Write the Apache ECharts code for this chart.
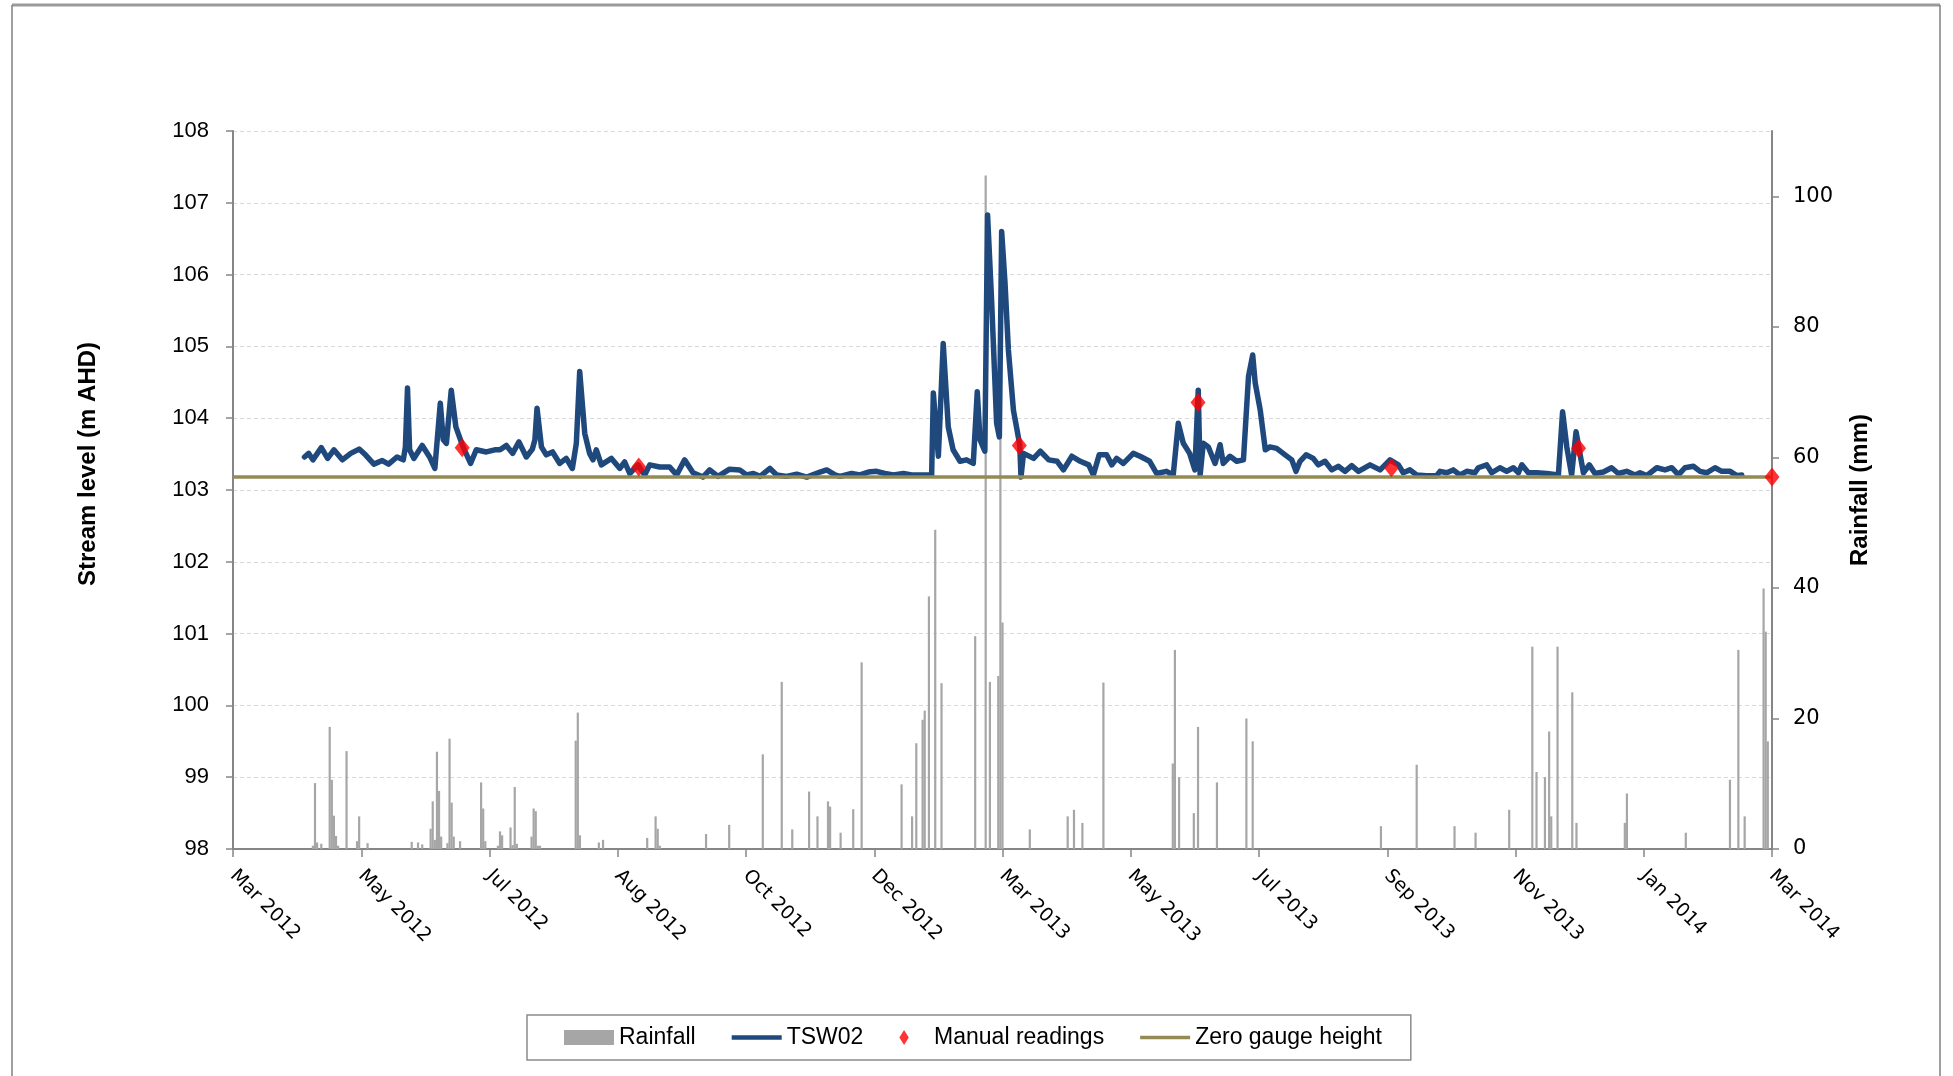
<!DOCTYPE html>
<html>
<head>
<meta charset="utf-8">
<script src="https://cdn.jsdelivr.net/npm/echarts@6/dist/echarts.min.js"></script>
<style>
html,body{margin:0;padding:0;background:#fff;}
#chart{width:1953px;height:1076px;}
</style>
</head>
<body>
<div id="chart"></div>
<script>
// x values are days counted from 1 Mar 2012
const xTickLabels = ['Mar 2012','May 2012','Jul 2012','Aug 2012','Oct 2012','Dec 2012','Mar 2013','May 2013','Jul 2013','Sep 2013','Nov 2013','Jan 2014','Mar 2014'];
const xTickStep = 61;
const xMax = 732;
const rainTicks = [0, 20, 40, 60, 80, 100];

// TSW02 stream level (m AHD)
const tswDay = [34,36,38,42,45,48,52,56,60,63,67,71,74,78,81,82,83,84,86,90,93.5,96,98.6,100,101.5,103.8,106,109.4,113,115.7,120.5,124.5,127,130,133,136,139.5,142.4,143.6,144.6,146.7,149,152,155.4,158.5,161.4,163.3,164.9,167.3,169.6,171.2,172.8,175.2,180,184,186.3,188.7,192.6,195.8,198.2,203,207.7,211,214.8,218.8,223.5,226.7,230.7,236.2,241,244.3,247.5,250.7,255.4,258.6,263.3,268.1,272.9,279.2,282.4,286.3,288.7,294.2,298.2,302.2,306.1,310.1,314.1,318.9,322.8,328.4,332.3,333.1,334.7,335.5,337.8,340.2,342.5,345.8,348.9,352.1,354,355.3,357.6,358.9,360.8,363.2,364.5,365.6,367.2,368.8,371.2,374.2,374.8,376,380.8,384,388,392,395,399,403,407,409.2,412,415.5,418,420.3,423.5,428.2,431.4,436,439.3,444,447.2,449.6,452,455,457.5,459.1,460,461.5,463.9,467.1,469.5,471,474.2,477.4,480.6,483,485,486.2,488.6,491,493.2,496.4,500.4,503.6,505.6,507.5,510.4,513.8,516.2,519.4,522.6,525.7,528.9,532.1,535.3,540.8,545.6,550.3,554.3,556.6,559.8,563,567.7,572.5,574.1,577.3,580.4,583.6,586.8,590.7,592.3,596.3,598.7,602.6,605.8,609,611.4,613,616.1,620.1,624.9,630.4,632.4,634.4,636.7,638.8,640.2,642.3,645.1,647.8,651.8,655.7,658.9,662.9,666.9,669.2,672.4,677.2,681.1,684.3,687.5,690.6,694.6,697.8,700.9,704.9,708.1,712.1,715.2,717.6];
const tswLevel = [103.46,103.51,103.42,103.59,103.44,103.56,103.42,103.51,103.57,103.49,103.36,103.41,103.36,103.46,103.42,103.6,104.42,103.56,103.44,103.62,103.46,103.30,104.21,103.70,103.65,104.39,103.88,103.60,103.37,103.56,103.53,103.56,103.56,103.62,103.51,103.67,103.46,103.57,103.7,104.14,103.60,103.49,103.53,103.37,103.44,103.30,103.65,104.65,103.79,103.51,103.42,103.56,103.35,103.44,103.30,103.39,103.23,103.35,103.21,103.35,103.32,103.32,103.21,103.42,103.24,103.18,103.28,103.19,103.29,103.28,103.21,103.23,103.19,103.30,103.21,103.19,103.22,103.18,103.25,103.28,103.21,103.19,103.23,103.21,103.25,103.26,103.23,103.21,103.23,103.21,103.21,103.21,104.35,103.75,103.47,105.04,103.88,103.56,103.40,103.42,103.37,104.37,103.70,103.54,106.83,105.65,103.93,103.74,106.60,105.88,104.95,104.11,103.63,103.18,103.51,103.44,103.54,103.42,103.40,103.28,103.47,103.40,103.35,103.21,103.49,103.49,103.35,103.44,103.37,103.51,103.47,103.40,103.23,103.26,103.21,103.93,103.65,103.51,103.28,104.39,103.21,103.65,103.60,103.37,103.63,103.37,103.47,103.40,103.42,104.58,104.88,104.49,104.11,103.56,103.60,103.58,103.49,103.42,103.26,103.40,103.49,103.44,103.35,103.40,103.28,103.33,103.26,103.34,103.26,103.35,103.28,103.42,103.35,103.24,103.28,103.21,103.20,103.20,103.26,103.24,103.28,103.21,103.26,103.24,103.31,103.35,103.24,103.31,103.26,103.31,103.24,103.35,103.24,103.24,103.23,103.21,104.09,103.60,103.21,103.81,103.58,103.24,103.35,103.23,103.25,103.31,103.23,103.26,103.21,103.24,103.20,103.31,103.28,103.31,103.21,103.31,103.33,103.26,103.24,103.31,103.26,103.26,103.20,103.21];

// Manual readings (m AHD)
const manualDay = [109, 193, 374, 459, 551, 640, 732];
const manualLevel = [103.59, 103.32, 103.62, 104.22, 103.31, 103.58, 103.18];

// Zero gauge height (m AHD)
const zeroGauge = 103.18;

// Daily rainfall (mm)
const rainDay = [38,39,40,42,46,47,48,49,50,54,59,60,64,85,88,90,94,95,96,97,98,99,102,103,104,105,108,118,119,120,126,127,128,132,133,134,135,142,143,144,145,146,163,164,165,174,176,197,201,202,203,225,236,252,261,266,274,278,283,284,289,295,299,318,323,325,328,329,331,334,337,353,358,360,364,365,366,379,397,400,404,414,447,448,450,457,459,468,482,485,546,563,581,591,607,618,620,624,626,627,630,637,639,662,663,691,712,716,719,728,729,730];
const rainMm = [0.5,10.1,1.0,0.8,18.7,10.6,5.1,2.0,0.5,15.0,1.2,5.0,0.9,1.1,1.0,0.7,3.1,7.3,1.4,14.9,8.9,1.9,0.9,16.9,7.1,1.9,1.2,10.2,6.2,1.2,0.5,2.7,2.1,3.3,0.6,9.5,0.8,1.9,6.2,5.8,0.5,0.5,16.6,20.9,2.1,1.0,1.4,1.7,5.0,3.1,0.5,2.3,3.7,14.5,25.6,3.0,8.8,5.0,7.3,6.5,2.5,6.1,28.6,9.9,5.0,16.2,19.8,21.2,38.7,48.9,25.4,32.6,103.2,25.6,26.5,88.0,34.7,3.0,5.0,6.0,4.0,25.5,13.1,30.5,11.0,5.5,18.7,10.2,20.0,16.5,3.5,12.9,3.5,2.5,6.0,31.0,11.8,11.0,18.0,5.0,31.0,24.0,4.0,4.0,8.5,2.5,10.6,30.5,5.0,39.9,33.3,16.5];

const chart = echarts.init(document.getElementById('chart'), null, {renderer: 'canvas'});

const option = {
  animation: false,
  backgroundColor: '#ffffff',
  grid: {left: 233, right: 181, top: 131, bottom: 227, containLabel: false},
  legend: {
    left: 527, top: 1015,
    padding: [11, 29, 11, 37],
    itemGap: 36,
    itemWidth: 50, itemHeight: 15,
    borderColor: '#8c8c8c', borderWidth: 1.5,
    textStyle: {fontFamily: '"Liberation Sans", Arial, sans-serif', fontSize: 23, color: '#000'},
    data: [
      {name: 'Rainfall', icon: 'rect'},
      {name: 'TSW02', icon: 'path://M0,0H50V4.5H0Z'},
      {name: 'Manual readings', icon: 'path://M5,0L10,8L5,16L0,8Z'},
      {name: 'Zero gauge height', icon: 'path://M0,0H50V3.5H0Z'}
    ]
  },
  xAxis: {
    type: 'value',
    min: 0, max: xMax, interval: xTickStep,
    axisLine: {show: true, lineStyle: {color: '#868686', width: 2}},
    axisTick: {show: true, length: 8, lineStyle: {color: '#868686', width: 1.5}},
    splitLine: {show: false},
    axisLabel: {
      rotate: -45, margin: 24,
      fontFamily: '"DejaVu Sans", sans-serif', fontSize: 19, color: '#000',
      formatter: v => xTickLabels[Math.round(v / xTickStep)] || ''
    }
  },
  yAxis: [
    {
      type: 'value', min: 98, max: 108, interval: 1,
      name: 'Stream level (m AHD)', nameLocation: 'middle', nameGap: 133, nameRotate: 90,
      nameTextStyle: {fontFamily: '"Liberation Sans", Arial, sans-serif', fontWeight: 'bold', fontSize: 24, color: '#000', padding: [0, 0, 0, 52]},
      axisLine: {show: true, lineStyle: {color: '#868686', width: 2}},
      axisTick: {show: true, inside: false, length: 7, lineStyle: {color: '#868686', width: 1.5}},
      splitLine: {show: true, lineStyle: {color: '#d9d9d9', type: [4, 3], width: 1}},
      axisLabel: {margin: 24, fontFamily: '"Liberation Sans", Arial, sans-serif', fontSize: 22, color: '#000'}
    },
    {
      type: 'value', min: 0, max: 110, interval: 20, position: 'right',
      name: 'Rainfall (mm)', nameLocation: 'middle', nameGap: 76, nameRotate: 90,
      nameTextStyle: {fontFamily: '"Liberation Sans", Arial, sans-serif', fontWeight: 'bold', fontSize: 24, color: '#000'},
      axisLine: {show: true, lineStyle: {color: '#868686', width: 2}},
      axisTick: {show: true, inside: false, length: 7, lineStyle: {color: '#868686', width: 1.5}, customValues: rainTicks},
      splitLine: {show: false},
      axisLabel: {margin: 21, fontFamily: '"DejaVu Sans", sans-serif', fontSize: 21, color: '#000', customValues: rainTicks}
    }
  ],
  series: [
    {
      name: 'Rainfall', type: 'bar', yAxisIndex: 1,
      barWidth: 2.2, barGap: '-100%',
      itemStyle: {color: '#A6A6A6'},
      z: 1,
      data: rainDay.map((d, i) => [d, rainMm[i]])
    },
    {
      name: 'TSW02', type: 'line', yAxisIndex: 0,
      symbol: 'none', showSymbol: false,
      lineStyle: {color: '#1F497D', width: 5.5, join: 'round', cap: 'round'},
      itemStyle: {color: '#1F497D'},
      z: 3,
      data: tswDay.map((d, i) => [d, tswLevel[i]])
    },
    {
      name: 'Manual readings', type: 'scatter', yAxisIndex: 0,
      symbol: 'diamond', symbolSize: [15, 19],
      itemStyle: {color: '#FF0000'},
      z: 6,
      data: manualDay.map((d, i) => [d, manualLevel[i]])
    },
    {
      name: 'Zero gauge height', type: 'line', yAxisIndex: 0,
      symbol: 'none', showSymbol: false,
      lineStyle: {color: '#948A54', width: 3.5},
      itemStyle: {color: '#948A54'},
      z: 4,
      data: [[0, zeroGauge], [xMax, zeroGauge]]
    }
  ],
  graphic: [
    {type: 'line', shape: {x1: 12, y1: 5, x2: 1940, y2: 5}, style: {stroke: '#9a9a9a', lineWidth: 3}, silent: true},
    {type: 'line', shape: {x1: 12, y1: 5, x2: 12, y2: 1076}, style: {stroke: '#7f7f7f', lineWidth: 1.5}, silent: true},
    {type: 'line', shape: {x1: 1940, y1: 5, x2: 1940, y2: 1076}, style: {stroke: '#7f7f7f', lineWidth: 1.5}, silent: true}
  ]
};
chart.setOption(option);
</script>
</body>
</html>
